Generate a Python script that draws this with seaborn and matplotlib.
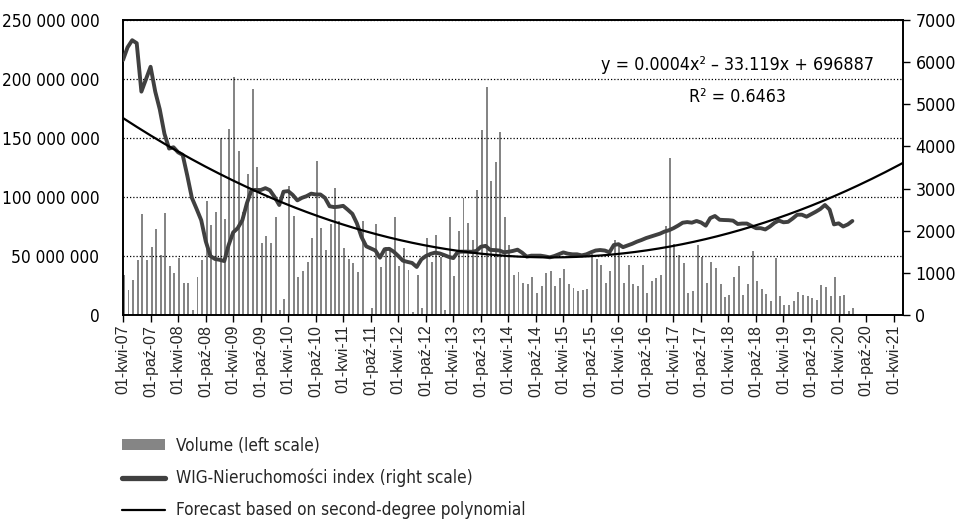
import numpy as np
import pandas as pd
import matplotlib
matplotlib.use("Agg")
import matplotlib.pyplot as plt
import matplotlib.dates as mdates
from matplotlib.ticker import FuncFormatter, MultipleLocator
from matplotlib.patches import Patch
from matplotlib.lines import Line2D
import seaborn as sns


# ─────────────────────────────────────────────
# DANE
# ─────────────────────────────────────────────
START_MONTH = "2007-04-01"

# miesięczny wolumen obrotu, mln zł (lewa oś)
volume_mln = [
    33.9, 21.0, 29.7, 46.6, 85.3, 46.6, 57.3, 72.9, 50.8, 86.2, 41.8, 35.9,
    48.6, 27.4, 26.8, 4.2, 32.5, 47.0, 97.0, 76.3, 87.0, 149.7, 81.0, 157.3,
    201.7, 139.3, 87.6, 119.2, 191.5, 125.4, 60.7, 67.0, 60.7, 83.3, 4.2, 13.6,
    109.6, 83.9, 31.9, 37.3, 45.2, 65.0, 130.8, 73.4, 55.0, 77.0, 107.3, 80.0,
    56.5, 47.2, 43.8, 36.2, 79.9, 0.5, 5.6, 76.8, 41.0, 58.0, 56.0, 83.3,
    41.8, 57.0, 38.0, 2.3, 33.9, 5.6, 65.5, 45.2, 67.8, 49.4, 4.5, 83.3,
    33.1, 71.2, 99.4, 77.7, 63.6, 105.9, 156.8, 193.0, 113.6, 130.0, 154.8, 82.8,
    59.3, 33.6, 36.7, 27.4, 26.0, 31.9, 18.9, 24.6, 35.3, 37.3, 24.8, 31.6,
    38.7, 26.3, 22.6, 20.3, 21.2, 22.3, 51.7, 47.2, 42.4, 27.4, 37.6, 63.6,
    58.5, 26.8, 42.4, 26.0, 24.6, 42.4, 18.9, 28.8, 31.1, 33.6, 75.4, 132.8,
    60.2, 50.8, 43.8, 18.9, 20.3, 59.3, 49.4, 27.4, 44.6, 40.1, 26.3, 15.5,
    17.2, 31.9, 41.8, 17.2, 26.3, 54.2, 29.1, 22.0, 17.8, 11.9, 48.0, 16.1,
    8.5, 8.5, 11.9, 19.2, 16.9, 16.4, 14.7, 12.7, 25.4, 24.0, 16.4, 31.9,
    16.1, 16.9, 3.6, 5.6,
]

# WIG-Nieruchomości, wartość miesięczna (prawa oś)
wig_index = [
    6050, 6350, 6520, 6450, 5300, 5600, 5890, 5300, 4880, 4300, 3950, 3980,
    3860, 3800, 3300, 2780, 2520, 2250, 1750, 1400, 1330, 1310, 1280, 1650,
    1960, 2060, 2250, 2650, 2966, 2966, 2966, 3010, 2960, 2800, 2610, 2926,
    2940, 2850, 2720, 2780, 2820, 2880, 2860, 2860, 2780, 2580, 2560, 2570,
    2590, 2500, 2400, 2176, 1850, 1630, 1580, 1530, 1360, 1560, 1570, 1503,
    1400, 1290, 1260, 1235, 1140, 1320, 1400, 1450, 1480, 1460, 1420, 1380,
    1350, 1500, 1503, 1503, 1500, 1520, 1620, 1640, 1545, 1540, 1530, 1490,
    1500, 1520, 1550, 1480, 1385, 1408, 1408, 1408, 1390, 1368, 1400, 1440,
    1485, 1455, 1440, 1440, 1415, 1440, 1487, 1530, 1542, 1530, 1487, 1660,
    1680, 1610, 1650, 1690, 1740, 1780, 1825, 1860, 1895, 1930, 1980, 2010,
    2060, 2120, 2190, 2205, 2191, 2231, 2195, 2120, 2300, 2349, 2260, 2254,
    2250, 2239, 2160, 2170, 2170, 2112, 2060, 2060, 2030, 2100, 2190, 2240,
    2200, 2210, 2290, 2380, 2380, 2333, 2390, 2450, 2515, 2610, 2500, 2150,
    2175, 2100, 2150, 2231,
]

tick_labels = [
    "01-kwi-07", "01-paź-07", "01-kwi-08", "01-paź-08", "01-kwi-09", "01-paź-09",
    "01-kwi-10", "01-paź-10", "01-kwi-11", "01-paź-11", "01-kwi-12", "01-paź-12",
    "01-kwi-13", "01-paź-13", "01-kwi-14", "01-paź-14", "01-kwi-15", "01-paź-15",
    "01-kwi-16", "01-paź-16", "01-kwi-17", "01-paź-17", "01-kwi-18", "01-paź-18",
    "01-kwi-19", "01-paź-19", "01-kwi-20", "01-paź-20", "01-kwi-21",
]

legend_labels = [
    "Volume (left scale)",
    "WIG-Nieruchomości index (right scale)",
    "Forecast based on second-degree polynomial",
]
eq_text = "y = 0.0004x² – 33.119x + 696887"
r2_text = "R² = 0.6463"

AXIS_END = "2021-06-02"
BAR_COLOR = "#858585"
LINE_COLOR = "#404040"

# ─────────────────────────────────────────────
# STYL
# ─────────────────────────────────────────────
sns.set_theme(style="white")
plt.rcParams["font.family"] = ["DejaVu Sans"]
plt.rcParams["font.stretch"] = "condensed"
NUM_SIZE = 12.8

months = pd.date_range(START_MONTH, periods=len(volume_mln), freq="MS")
tick_dates = pd.date_range(START_MONTH, periods=len(tick_labels), freq="6MS")
df = pd.DataFrame({"date": months,
                   "volume": np.array(volume_mln) * 1e6,
                   "wig": wig_index})

fig, ax = plt.subplots(figsize=(9.62, 5.22), dpi=100)
fig.subplots_adjust(left=123 / 962, right=903 / 962,
                    bottom=1 - 315 / 522, top=1 - 20 / 522)

# słupki wolumenu
ax.bar(df["date"], df["volume"], width=13, align="edge",
       color=BAR_COLOR, linewidth=0, zorder=2)
ax.set_ylim(0, 250e6)
ax.yaxis.set_major_locator(MultipleLocator(50e6))
ax.yaxis.set_major_formatter(
    FuncFormatter(lambda v, p: f"{v:,.0f}".replace(",", " ")))
ax.yaxis.grid(True, linestyle=(0, (1, 1.6)), color="black", linewidth=0.9)
ax.set_axisbelow(False)

# oś prawa: indeks + trend
ax2 = ax.twinx()
sns.lineplot(data=df, x="date", y="wig", ax=ax2, color=LINE_COLOR,
             linewidth=2.8, solid_joinstyle="round", zorder=3)

xnum = mdates.date2num(df["date"])
coef = np.polyfit(xnum, df["wig"], 2)
x_end = mdates.date2num(pd.Timestamp(AXIS_END))
xs = np.linspace(xnum[0], x_end, 400)
trend = pd.DataFrame({"date": mdates.num2date(xs), "wig": np.polyval(coef, xs)})
sns.lineplot(data=trend, x="date", y="wig", ax=ax2, color="black",
             linewidth=1.6, zorder=4)

ax2.set_ylim(0, 7000)
ax2.yaxis.set_major_locator(MultipleLocator(1000))
ax2.yaxis.set_major_formatter(FuncFormatter(lambda v, p: f"{v:.0f}"))
ax2.set_ylabel("")
ax.set_ylabel("")
ax.set_xlabel("")
ax2.set_xlabel("")

ax.set_xlim(pd.Timestamp(START_MONTH), pd.Timestamp(AXIS_END))
ax.set_xticks(tick_dates)
ax.set_xticklabels(tick_labels, rotation=90, fontfamily="Liberation Sans",
                   fontstretch="normal", fontsize=11.5)

ax.tick_params(axis="x", bottom=True, direction="out", length=5, width=1,
               color="black", pad=2)
ax.tick_params(axis="y", left=False, labelsize=12.4, pad=11,
               labelcolor="black")
ax2.tick_params(axis="y", right=True, direction="out", length=5, width=1,
                color="black", labelsize=NUM_SIZE, pad=4, labelcolor="black")

for a in (ax, ax2):
    for s in a.spines.values():
        s.set_color("black")
        s.set_linewidth(1.2)

# równanie trendu
ax2.text(0.788, 0.847, eq_text, transform=ax.transAxes, ha="center",
         va="center", fontsize=NUM_SIZE, color="black")
ax2.text(0.788, 0.74, r2_text, transform=ax.transAxes, ha="center",
         va="center", fontsize=NUM_SIZE, color="black")

# legenda pod wykresem
handles = [
    Patch(facecolor=BAR_COLOR, edgecolor="none"),
    Line2D([], [], color=LINE_COLOR, linewidth=3.8, solid_capstyle="round"),
    Line2D([], [], color="black", linewidth=1.6),
]
fig.legend(handles, legend_labels, loc="upper left",
           bbox_to_anchor=(115 / 962, 1 - 430 / 522), frameon=False,
           fontsize=12.3, handlelength=2.55, handleheight=0.62,
           handletextpad=0.6, labelspacing=0.82, borderaxespad=0)

fig.savefig("out.png", dpi=100)
